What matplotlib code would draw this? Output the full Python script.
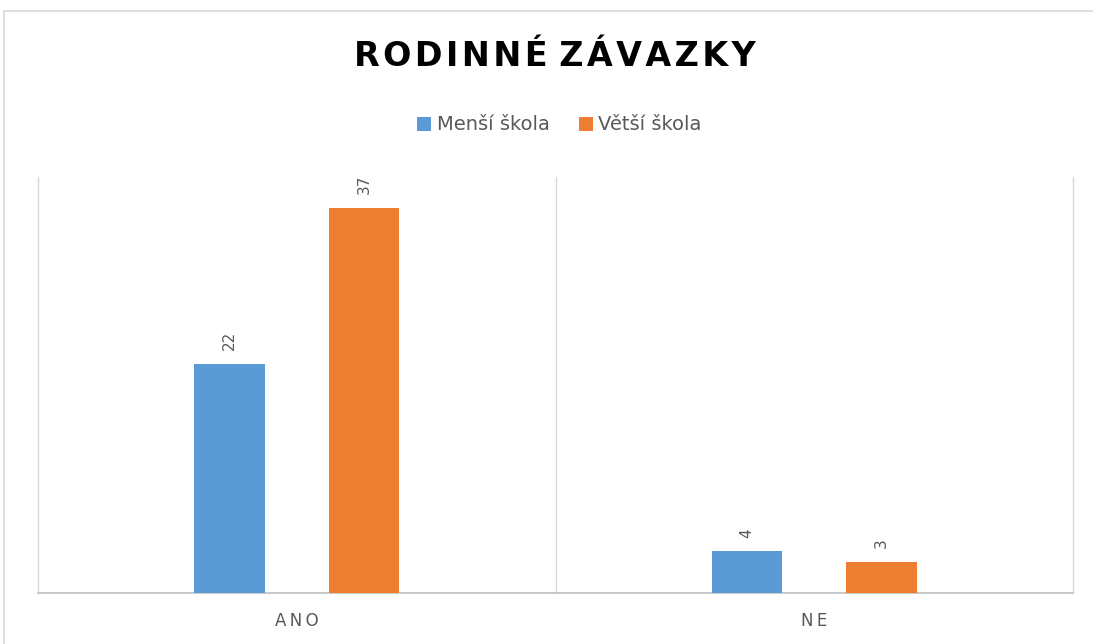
import numpy as np
import matplotlib
matplotlib.use('Agg')
import matplotlib.pyplot as plt
from matplotlib.patches import Rectangle

# data
kategorie = ["ANO", "NE"]
mensi_skola = [22, 4]
vetsi_skola = [37, 3]
serie_nazvy = ["Menší škola", "Větší škola"]

modra = "#5b9bd5"
oranzova = "#ed7d31"
seda = "#595959"

fig = plt.figure(figsize=(10.93, 6.44), dpi=100)
ax = fig.add_axes([38/1093, 1 - 593/644, (1073 - 38)/1093, (593 - 177)/644])

# ramecek grafu
fig.patches.append(Rectangle((4/1093, -0.1), 1.2, 1.1 - 11/644, transform=fig.transFigure,
                             fill=False, edgecolor="#d9d9d9", linewidth=1.2))

x = np.arange(len(kategorie))
sirka = 0.137
b1 = ax.bar(x - 0.13, mensi_skola, sirka, color=modra, label=serie_nazvy[0], zorder=3)
b2 = ax.bar(x + 0.13, vetsi_skola, sirka, color=oranzova, label=serie_nazvy[1], zorder=3)

for bars in (b1, b2):
    for b in bars:
        ax.annotate(str(int(b.get_height())), (b.get_x() + b.get_width()/2, b.get_height()),
                    xytext=(0, 10), textcoords="offset points", rotation=90,
                    ha="center", va="bottom", fontsize=11, color=seda)

ax.set_xlim(-0.5, 1.5)
ax.set_ylim(0, 40)

# svisle oddelovace kategorii
for xv in [-0.5, 0.5, 1.5]:
    ax.axvline(xv, color="#d9d9d9", linewidth=1, zorder=1, clip_on=False)

for s in ["top", "right", "left"]:
    ax.spines[s].set_visible(False)
ax.spines["bottom"].set_color("#bfbfbf")
ax.spines["bottom"].set_linewidth(1.2)

ax.set_yticks([])
ax.set_xticks(x)
ax.set_xticklabels(["\u2009".join(k) for k in kategorie], fontsize=12, color=seda)
ax.tick_params(axis="x", length=0, pad=14)

nadpis = "RODINNÉ ZÁVAZKY"
fig.text(0.508, 1 - 57/644, " ".join("\u200a".join(w) for w in nadpis.split(" ")),
         ha="center", va="center", fontsize=24, fontweight="bold", color="black")

fig.legend(loc="center", bbox_to_anchor=(0.512, 1 - 125/644), ncol=2, frameon=False,
           fontsize=14, labelcolor=seda, handlelength=0.7, handleheight=0.7,
           handletextpad=0.3, columnspacing=1.5)

plt.savefig("out.png", dpi=100)
